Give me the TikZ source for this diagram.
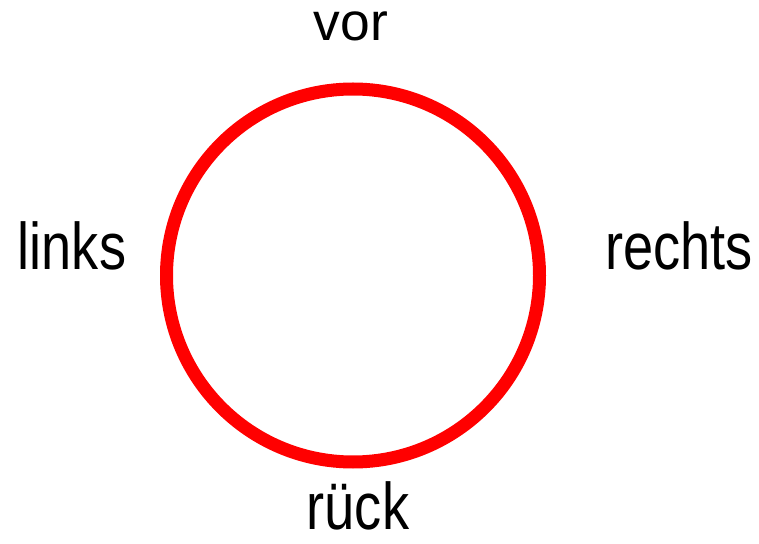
\documentclass[tikz,border=0pt]{standalone}
\usepackage{fontspec}
\usepackage{xcolor}
\setmainfont{Liberation Sans}[FakeStretch=0.82]
\newfontfamily\obenfont{Liberation Sans}
\usetikzlibrary{positioning}

\begin{document}
\begin{tikzpicture}[kreis/.style={draw=red,line width=0.65cm},
richtung/.style={anchor=base,inner sep=0pt,text depth=0pt,text height=0.72em,font=\fontsize{94}{100}\selectfont}]
\useasboundingbox(0,0)rectangle(37.95,27.15);
\coordinate(M)at(17.65,13.375);
\draw[kreis](M)circle[radius=9.325];
%% Beschriftung
\node[richtung,text height=0.52em,font=\obenfont\fontsize{76}{80}\selectfont](vor)at(17.55,25.1){vor};
\node[richtung](links)at(3.6,13.65){links};
\node[richtung](rechts)at(33.95,13.65){rechts};
\node[richtung](rueck)at(17.9,0.7){rück};
\end{tikzpicture}
\end{document}
